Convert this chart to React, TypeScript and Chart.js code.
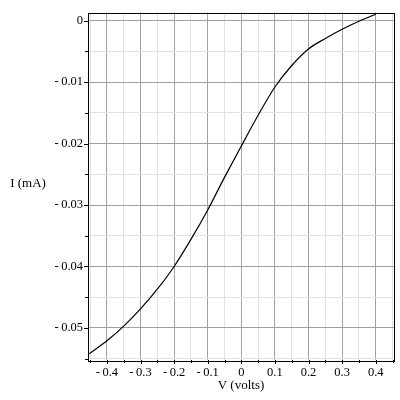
import React, { useEffect, useRef } from "react";
import { Chart, registerables } from "chart.js";

Chart.register(...registerables);

const voltage = [
  -0.4524, -0.4, -0.35, -0.3, -0.25, -0.2, -0.15, -0.1, -0.05, 0, 0.05, 0.1, 0.15, 0.2, 0.25, 0.3, 0.35,
  0.4,
];
const current = [
  -0.0542, -0.0521, -0.0497, -0.0469, -0.0437, -0.04, -0.0356, -0.0308, -0.0255, -0.0204, -0.0154,
  -0.0108, -0.0073, -0.0046, -0.0029, -0.0014, -0.0001, 0.00105,
];
const xTickValues = [
  -0.45, -0.4, -0.35, -0.3, -0.25, -0.2, -0.15, -0.1, -0.05, 0, 0.05, 0.1, 0.15, 0.2, 0.25, 0.3, 0.35,
  0.4, 0.45,
];
const yTickValues = [
  0, -0.005, -0.01, -0.015, -0.02, -0.025, -0.03, -0.035, -0.04, -0.045, -0.05, -0.055,
];
const xTitle = "V (volts)";
const yTitle = "I (mA)";

const FONT = '"Liberation Serif", "Times New Roman", serif';
const MAJOR = "rgb(160,160,160)";
const MINOR = "rgb(226,226,226)";

const isMajorX = (v: number) => Math.abs(Math.round(v * 10) - v * 10) < 1e-6;
const isMajorY = (v: number) => Math.abs(Math.round(v * 100) - v * 100) < 1e-6;

const fmt = (v: number, digits: number) => {
  if (Math.abs(v) < 1e-12) return "0";
  const s = Math.abs(v).toFixed(digits);
  return v < 0 ? "-\u2009" + s : s;
};

const decorPlugin = {
  id: "decor",
  afterDraw(chart: any) {
    const { ctx, chartArea } = chart;
    const { left, top, right, bottom } = chartArea;
    const xs = chart.scales.x;
    const ys = chart.scales.y;
    ctx.save();
    ctx.strokeStyle = "#000";
    ctx.lineWidth = 1;
    ctx.beginPath();
    xTickValues.forEach((v) => {
      const px = Math.round(xs.getPixelForValue(v)) + 0.5;
      const len = isMajorX(v) ? 4 : 3;
      ctx.moveTo(px, bottom);
      ctx.lineTo(px, bottom + len);
    });
    yTickValues.forEach((v) => {
      const py = Math.round(ys.getPixelForValue(v)) + 0.5;
      const len = isMajorY(v) ? 4 : 3;
      ctx.moveTo(left, py);
      ctx.lineTo(left - len, py);
    });
    ctx.stroke();
    ctx.strokeRect(Math.round(left) + 0.5, Math.round(top) + 0.5, Math.round(right - left), Math.round(bottom - top));
    ctx.fillStyle = "#000";
    ctx.font = "13px " + FONT;
    ctx.textAlign = "center";
    ctx.textBaseline = "middle";
    ctx.fillText(yTitle, 28, 184);
    ctx.fillText(xTitle, (left + right) / 2, 386);
    ctx.restore();
  },
};

export default function App() {
  const ref = useRef<HTMLCanvasElement>(null);
  useEffect(() => {
    if (!ref.current) return;
    const chart = new Chart(ref.current, {
      type: "line",
      data: {
        datasets: [
          {
            data: voltage.map((v, i) => ({ x: v, y: current[i] })),
            borderColor: "#000",
            borderWidth: 1.2,
            pointRadius: 0,
            cubicInterpolationMode: "monotone",
            fill: false,
          },
        ],
      },
      options: {
        animation: false,
        responsive: true,
        maintainAspectRatio: false,
        layout: { padding: { top: 6, right: 6, left: 0, bottom: 0 } },
        plugins: { legend: { display: false }, tooltip: { enabled: false }, title: { display: false } },
        scales: {
          x: {
            type: "linear",
            min: -0.4563,
            max: 0.4544,
            afterBuildTicks: (s: any) => {
              s.ticks = xTickValues.map((v) => ({ value: v }));
            },
            afterFit: (s: any) => {
              s.height = 40;
            },
            border: { display: false },
            grid: {
              drawTicks: false,
              lineWidth: 1,
              color: (c: any) => (c.tick && isMajorX(c.tick.value) ? MAJOR : MINOR),
            },
            ticks: {
              autoSkip: false,
              maxRotation: 0,
              padding: 5,
              color: "#000",
              font: { family: FONT, size: 12.5 },
              callback: (v: any) => (isMajorX(Number(v)) && Math.abs(Number(v)) < 0.44 ? fmt(Number(v), 1) : ""),
            },
          },
          y: {
            type: "linear",
            min: -0.05522,
            max: 0.001326,
            afterBuildTicks: (s: any) => {
              s.ticks = yTickValues.map((v) => ({ value: v }));
            },
            afterFit: (s: any) => {
              s.width = 88;
            },
            border: { display: false },
            grid: {
              drawTicks: false,
              lineWidth: 1,
              color: (c: any) => (c.tick && isMajorY(c.tick.value) ? MAJOR : MINOR),
            },
            ticks: {
              autoSkip: false,
              padding: 5,
              color: "#000",
              font: { family: FONT, size: 12.5 },
              callback: (v: any) => (isMajorY(Number(v)) ? fmt(Number(v), 2) : ""),
            },
          },
        },
      },
      plugins: [decorPlugin],
    } as any);
    return () => chart.destroy();
  }, []);
  return (
    <div style={{ position: "fixed", left: 0, top: 0, width: 400, height: 400, background: "#fff" }}>
      <canvas ref={ref} />
    </div>
  );
}
